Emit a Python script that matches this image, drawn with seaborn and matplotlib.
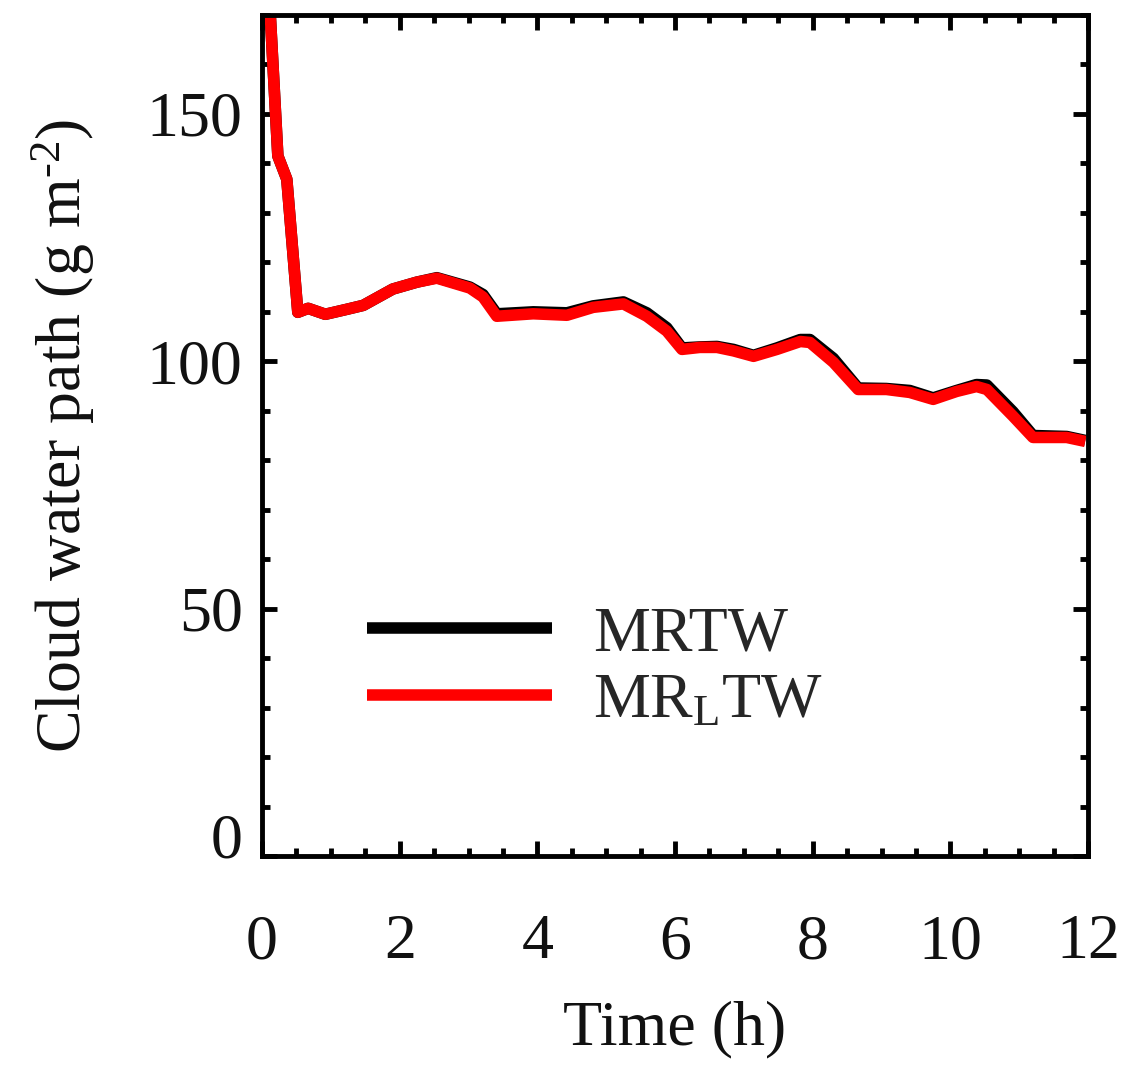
import numpy as np
import pandas as pd
import seaborn as sns
import matplotlib
matplotlib.use('Agg')
import matplotlib.pyplot as plt
from matplotlib.ticker import MultipleLocator
from matplotlib.transforms import ScaledTranslation

# data
time_h = [0.12, 0.23, 0.36, 0.52, 0.67, 0.92, 1.23, 1.47, 1.90, 2.25, 2.54, 3.02, 3.21, 3.41,
          3.94, 4.43, 4.81, 5.25, 5.59, 5.88, 6.10, 6.36, 6.61, 6.85, 7.14, 7.48, 7.82, 7.96,
          8.30, 8.66, 9.07, 9.41, 9.75, 10.09, 10.38, 10.53, 10.91, 11.20, 11.69, 11.96]
cwp_mrl = [170.0, 141.5, 136.8, 109.9, 110.7, 109.5, 110.5, 111.3, 114.6, 116.0, 116.8, 114.8, 113.0, 109.1,
           109.6, 109.3, 110.9, 111.6, 109.1, 106.1, 102.4, 102.8, 102.8, 102.1, 101.0, 102.4, 104.0, 103.8,
           99.8, 94.3, 94.3, 93.7, 92.3, 93.9, 94.9, 94.3, 88.9, 84.6, 84.6, 83.8]
cwp_mr = [170.0, 141.5, 136.8, 109.9, 110.7, 109.5, 110.5, 111.3, 114.6, 116.0, 116.9, 115.0, 113.5, 109.6,
          110.0, 109.8, 111.2, 112.0, 109.8, 106.8, 102.7, 102.9, 103.0, 102.4, 101.2, 102.7, 104.4, 104.4,
          100.6, 94.6, 94.5, 94.1, 92.6, 94.1, 95.3, 95.2, 89.8, 85.0, 84.8, 84.0]
runs = ["MRTW", r"MR$_{\rm L}$TW"]

df = pd.DataFrame({
    "time": time_h + time_h,
    "cwp": cwp_mr + cwp_mrl,
    "run": [runs[0]] * len(time_h) + [runs[1]] * len(time_h),
})

sns.set_style("ticks")
plt.rcParams['font.family'] = ['Liberation Serif', 'DejaVu Serif']
plt.rcParams['mathtext.fontset'] = 'custom'
plt.rcParams['mathtext.rm'] = 'Liberation Serif'
plt.rcParams['mathtext.it'] = 'Liberation Serif:italic'

fs = 46
fig = plt.figure(figsize=(11.26, 10.70), dpi=100)
ax = fig.add_axes([0.2327, 0.2, 0.7336, 0.786])

sns.lineplot(data=df, x="time", y="cwp", hue="run", palette=["black", "red"],
             linewidth=8.3, solid_joinstyle='round', solid_capstyle='butt', ax=ax)

ax.set_xlim(0, 12)
ax.set_ylim(0, 170)
ax.xaxis.set_major_locator(MultipleLocator(2))
ax.xaxis.set_minor_locator(MultipleLocator(0.5))
ax.yaxis.set_major_locator(MultipleLocator(50))
ax.yaxis.set_minor_locator(MultipleLocator(10))
ax.tick_params(which='both', direction='in', top=True, right=True, width=3.5, color='black',
               labelcolor='#111111')
ax.tick_params(which='major', length=11, labelsize=fs)
ax.tick_params(which='minor', length=6)
ax.tick_params(axis='x', which='major', pad=42)
ax.tick_params(axis='y', which='major', pad=14)
for sp in ax.spines.values():
    sp.set_linewidth(3.5)
    sp.set_color('black')

ax.set_xlabel("Time (h)", fontsize=fs, labelpad=20, color='#111111')
ax.set_ylabel(r"Cloud water path (g m$^{\rm \text{-}2}$)", fontsize=fs, labelpad=36, color='#111111')

ax.legend(frameon=False, fontsize=fs, handlelength=2.9, handletextpad=0.65,
          labelspacing=0.12, loc='lower left', bbox_to_anchor=(0.057, 0.08))

fig.canvas.draw()
for lab in ax.get_yticklabels():
    if lab.get_text() == '0':
        lab.set_transform(lab.get_transform() + ScaledTranslation(0, 0.21, fig.dpi_scale_trans))

plt.savefig("out.png", dpi=100)
